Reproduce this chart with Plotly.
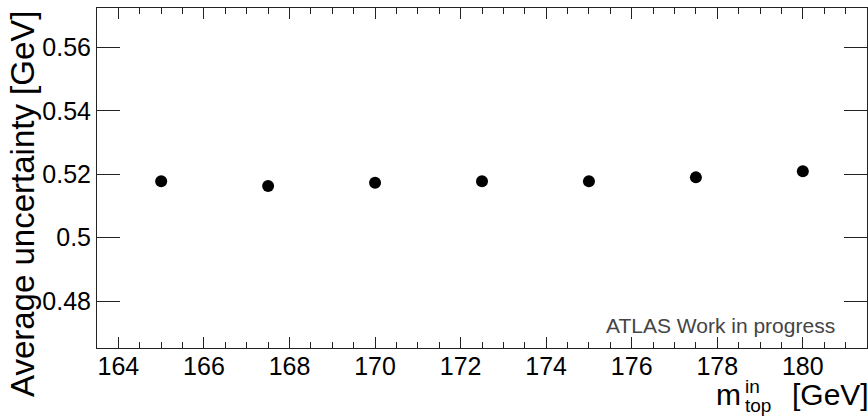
import plotly.graph_objects as go

# Input top-quark mass points and the average fitted uncertainty at each
m_top_in = [165.0, 167.5, 170.0, 172.5, 175.0, 177.5, 180.0]
avg_uncertainty = [0.5178, 0.5163, 0.5173, 0.5178, 0.5178, 0.5190, 0.5209]

# Axis ticks
x_tick_vals = [164, 166, 168, 170, 172, 174, 176, 178, 180]
x_tick_text = ["164", "166", "168", "170", "172", "174", "176", "178", "180"]
y_tick_vals = [0.48, 0.50, 0.52, 0.54, 0.56]
y_tick_text = ["0.48", "0.5", "0.52", "0.54", "0.56"]

W, H = 868, 417
L, R, T, B = 97, 1, 8, 69
PW, PH = W - L - R, H - T - B
FONT = "Liberation Sans, Arial, Helvetica, sans-serif"


def px(x):
    return (x - L) / PW


def py(y):
    return (H - B - y) / PH


fig = go.Figure()
fig.add_trace(go.Scatter(
    x=m_top_in, y=avg_uncertainty, mode="markers",
    marker=dict(symbol="circle", size=12, color="black"),
    showlegend=False, hoverinfo="x+y",
))

axis_common = dict(
    showline=True, linecolor="#222222", linewidth=1, mirror="ticks",
    ticks="inside", tickcolor="#222222", tickwidth=1,
    showgrid=False, zeroline=False,
    tickfont=dict(family=FONT, size=25, color="black"),
)

fig.update_xaxes(
    range=[163.5, 181.5], tickmode="array",
    tickvals=x_tick_vals, ticktext=x_tick_text, ticklen=11,
    ticklabelstandoff=-4,
    minor=dict(dtick=0.5, ticks="inside", ticklen=6, tickcolor="#222222", tickwidth=1),
    **axis_common,
)
fig.update_yaxes(
    range=[0.4652, 0.5724], tickmode="array",
    tickvals=y_tick_vals, ticktext=y_tick_text, ticklen=23,
    **axis_common,
)

ann = []
# y-axis title, aligned to the top end of the axis
ann.append(dict(text="Average uncertainty [GeV]", textangle=-90,
                x=px(22), y=py(9), xanchor="center", yanchor="top",
                font=dict(family=FONT, size=33, color="black")))
# x-axis title: m with stacked super/subscripts, then the unit
ann.append(dict(text="m", x=px(714), y=py(394), xanchor="left", yanchor="middle",
                font=dict(family=FONT, size=30, color="black")))
ann.append(dict(text="in", x=px(743), y=py(386), xanchor="left", yanchor="middle",
                font=dict(family=FONT, size=19, color="black")))
ann.append(dict(text="top", x=px(743), y=py(405), xanchor="left", yanchor="middle",
                font=dict(family=FONT, size=19, color="black")))
ann.append(dict(text="[GeV]", x=px(871), y=py(394), xanchor="right", yanchor="middle",
                font=dict(family=FONT, size=30, color="black")))
# label in the lower-right corner of the frame
ann.append(dict(text="ATLAS Work in progress", x=px(604), y=py(325),
                xanchor="left", yanchor="middle",
                font=dict(family=FONT, size=21, color="#444444")))
for a in ann:
    a.update(xref="paper", yref="paper", showarrow=False)

fig.update_layout(
    width=W, height=H,
    margin=dict(l=L, r=R, t=T, b=B, pad=0),
    paper_bgcolor="white", plot_bgcolor="white",
    annotations=ann,
)

fig.write_html("out.html")
